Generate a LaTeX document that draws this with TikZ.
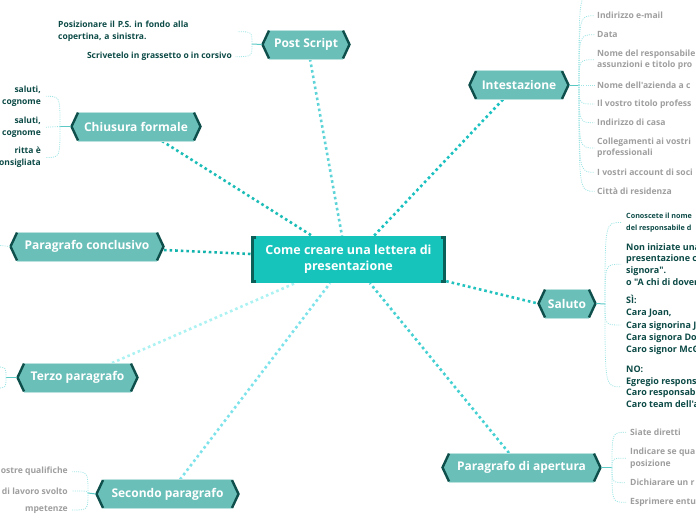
\documentclass[tikz,border=0pt]{standalone}
\usepackage{fontspec}
\setmainfont{Open Sans}[Ligatures=TeXOff]
\usetikzlibrary{backgrounds,calc}
\definecolor{cfill}{HTML}{16C4BC}
\definecolor{cdark}{HTML}{0B5F59}
\definecolor{bfill}{HTML}{6ABFB9}
\definecolor{bdark}{HTML}{0E4F4B}
\definecolor{txtdark}{HTML}{0C4A46}
\definecolor{txtgray}{HTML}{9E9E9E}
\definecolor{subline}{HTML}{9CE3E3}
\definecolor{stemcol}{HTML}{5CC9C4}
\definecolor{cPS}{HTML}{5FD4D8}
\definecolor{cCF}{HTML}{1DBDB7}
\definecolor{cIT}{HTML}{1BC0C0}
\definecolor{cPC}{HTML}{12B3AC}
\definecolor{cSA}{HTML}{22C2BE}
\definecolor{cTP}{HTML}{ACF2F2}
\definecolor{cSP}{HTML}{7EE2EA}
\definecolor{cPA}{HTML}{45D0D2}
\tikzset{
  branchshape/.style={minimum height=29pt, inner sep=0pt, outer sep=0pt},
  branchlabel/.style={text=white, inner sep=0pt, font=\bfseries\fontsize{12}{14}\selectfont},
  bedge/.style={draw=bdark, line width=2.4pt, line join=miter},
  conn/.style={line width=2.6pt, dash pattern=on 2.6pt off 3pt},
  sub/.style={draw=subline, line width=0.8pt, dash pattern=on 1pt off 1.2pt},
  stem/.style={draw=stemcol, line width=1pt},
  grayitem/.style={text=txtgray, inner sep=0pt, align=left, font=\bfseries\fontsize{8.6}{11.5}\selectfont},
  darkitem/.style={text=txtdark, inner sep=0pt, align=left, font=\bfseries\fontsize{8.5}{12}\selectfont},
  centerbox/.style={fill=cfill, minimum width=195pt, minimum height=47pt, inner sep=0pt, align=center, text=white, font=\bfseries\fontsize{12.5}{16}\selectfont}
}
\newcommand{\branchnode}[5]{%
  \path (#2,#3) node[branchshape, minimum width=#4pt] (#1) {};
  \fill[bfill] (#1.north west) -- (#1.north east) -- ([xshift=7pt]#1.east) -- (#1.south east) -- (#1.south west) -- ([xshift=-7pt]#1.west) -- cycle;
  \draw[white!55!bfill, line width=0.8pt] (#1.north west) -- (#1.north east);
  \draw[white!55!bfill, line width=0.8pt] (#1.south west) -- (#1.south east);
  \draw[bedge] ([yshift=-0.6pt]#1.north east) -- ([xshift=6.5pt]#1.east) -- ([yshift=0.6pt]#1.south east);
  \draw[bedge] ([yshift=-0.6pt]#1.north west) -- ([xshift=-6.5pt]#1.west) -- ([yshift=0.6pt]#1.south west);
  \node[branchlabel] at (#1) {#5};
}
\begin{document}
\begin{tikzpicture}[x=1pt,y=-1pt]
\useasboundingbox (0,0) rectangle (696,520);
\clip (0,0) rectangle (696,520);

% central node
\node[centerbox] (c) at (348.5,259.5) {Come creare una lettera di\\presentazione};
\draw[cdark, line width=3pt] ([xshift=5.5pt,yshift=-1.5pt]c.north west) -- ([xshift=1.5pt,yshift=-1.5pt]c.north west) -- ([xshift=1.5pt,yshift=1.5pt]c.south west) -- ([xshift=5.5pt,yshift=1.5pt]c.south west);
\draw[cdark, line width=3pt] ([xshift=-5.5pt,yshift=-1.5pt]c.north east) -- ([xshift=-1.5pt,yshift=-1.5pt]c.north east) -- ([xshift=-1.5pt,yshift=1.5pt]c.south east) -- ([xshift=-5.5pt,yshift=1.5pt]c.south east);

% branches
\branchnode{ps}{306}{44.5}{74}{Post Script}
\branchnode{cf}{136}{126.5}{116}{Chiusura formale}
\branchnode{it}{519}{85}{86}{Intestazione}
\branchnode{pc}{87}{246.5}{140}{Paragrafo conclusivo}
\branchnode{tp}{77.5}{377.5}{107}{Terzo paragrafo}
\branchnode{sp}{167.5}{494}{129}{Secondo paragrafo}
\branchnode{sa}{567}{303.5}{44}{Saluto}
\branchnode{pa}{521.5}{467.5}{145}{Paragrafo di apertura}

% main connectors
\begin{scope}[on background layer]
\draw[conn, cPS] ([xshift=4pt]ps.south) -- ([xshift=-6.5pt]c.north);
\draw[conn, cCF] ([xshift=26pt]cf.south) -- ([xshift=-36.5pt]c.north);
\draw[conn, cIT] ([xshift=-16pt]it.south) -- ([xshift=25.5pt]c.north);
\draw[conn, cPC] ([xshift=7pt,yshift=-3.5pt]pc.east) -- ([yshift=5.5pt]c.west);
\draw[conn, cSA] ([yshift=2pt]c.south east) -- ([xshift=-7pt]sa.west);
\draw[conn, cTP] ([xshift=34.5pt]tp.north) -- ([xshift=-53.5pt]c.south);
\draw[conn, cSP] ([xshift=12.5pt]sp.north) -- ([xshift=-18.5pt]c.south);
\draw[conn, cPA] ([xshift=-12.5pt]pa.north) -- ([xshift=21.5pt]c.south);
\end{scope}

% ---- Post Script items
\coordinate (psj) at (252,44);
\draw[stem] ([xshift=-7pt]ps.west) -- (psj);
\node[darkitem, anchor=west, text width=176pt] (ps1) at (58,31.7) {Posizionare il P.S. in fondo alla\\copertina, a sinistra.};
\node[darkitem, anchor=east] (ps2) at (232,56.7) {Scrivetelo in grassetto o in corsivo};
\draw[sub] (psj) .. controls (psj |- ps1.east) .. ([xshift=3pt]ps1.east);
\draw[sub] (psj) .. controls (psj |- ps2.east) .. ([xshift=3pt]ps2.east);

% ---- Chiusura formale items
\coordinate (cfj) at (60,126.5);
\draw[stem] ([xshift=-7pt]cf.west) -- (cfj);
\node[darkitem, anchor=east, align=right] (cf1) at (41,96.3) {saluti,\\cognome};
\node[darkitem, anchor=east, align=right] (cf2) at (41,127.2) {saluti,\\cognome};
\node[darkitem, anchor=east, align=right] (cf3) at (41,157.5) {ritta è\\onsigliata};
\draw[sub] (cfj) .. controls (cfj |- cf1.east) .. ([xshift=5pt]cf1.east);
\draw[sub] (cfj) -- ([xshift=5pt]cf2.east);
\draw[sub] (cfj) .. controls (cfj |- cf3.east) .. ([xshift=5pt]cf3.east);

% ---- Intestazione items
\coordinate (itj) at (579,85);
\coordinate (it0) at (594,-6);
\draw[stem] ([xshift=7pt]it.east) -- (itj);
\node[grayitem, anchor=west] (it1) at (597,15.7) {Indirizzo e-mail};
\node[grayitem, anchor=west] (it2) at (597,34.7) {Data};
\node[grayitem, anchor=west] (it3) at (597,59.7) {Nome del responsabile\\assunzioni e titolo pro};
\node[grayitem, anchor=west] (it4) at (597,85) {Nome dell'azienda a c};
\node[grayitem, anchor=west] (it5) at (597,104) {Il vostro titolo profess};
\node[grayitem, anchor=west] (it6) at (597,122.7) {Indirizzo di casa};
\node[grayitem, anchor=west] (it7) at (597,148) {Collegamenti ai vostri\\professionali};
\node[grayitem, anchor=west] (it8) at (597,172.3) {I vostri account di soci};
\node[grayitem, anchor=west] (it9) at (597,191.3) {Città di residenza};
\draw[sub] (itj) .. controls (itj |- it0) .. (it0);
\foreach \i in {1,2,3,5,6,7,8,9}{
  \draw[sub] (itj) .. controls (itj |- it\i.west) .. ([xshift=-2.5pt]it\i.west);
}
\draw[sub] (itj) -- ([xshift=-2.5pt]it4.west);

% ---- Saluto items
\coordinate (saj) at (605,304);
\draw[stem] ([xshift=7pt]sa.east) -- (saj);
\node[darkitem, anchor=west, font=\bfseries\fontsize{7.2}{11.6}\selectfont] (sa1) at (626,222.5) {Conoscete il nome\\del responsabile d};
\node[darkitem, anchor=west, font=\bfseries\fontsize{9}{11.7}\selectfont] (sa2) at (626,264.2) {Non iniziate una\\presentazione c\\signora".\\o "A chi di dover};
\node[darkitem, anchor=west, font=\bfseries\fontsize{9}{12.3}\selectfont] (sa3) at (626,325) {SÌ:\\Cara Joan,\\Cara signorina J\\Cara signora Do\\Caro signor McG};
\node[darkitem, anchor=west, font=\bfseries\fontsize{9}{11.7}\selectfont] (sa4) at (626,386.8) {NO:\\Egregio respons\\Caro responsabi\\Caro team dell'a};
\foreach \i in {1,2,3,4}{
  \draw[sub] (saj) .. controls (saj |- sa\i.west) .. ([xshift=-5pt]sa\i.west);
}

% ---- Paragrafo di apertura items
\coordinate (paj) at (612,467.5);
\draw[stem] ([xshift=7pt]pa.east) -- (paj);
\node[grayitem, anchor=west] (pa1) at (630,432.3) {Siate diretti};
\node[grayitem, anchor=west] (pa2) at (630,458.2) {Indicare se qua\\posizione};
\node[grayitem, anchor=west] (pa3) at (630,482.7) {Dichiarare un r};
\node[grayitem, anchor=west] (pa4) at (630,502.3) {Esprimere entu};
\foreach \i in {1,2,3,4}{
  \draw[sub] (paj) .. controls (paj |- pa\i.west) .. ([xshift=-4pt]pa\i.west);
}

% ---- Secondo paragrafo items
\coordinate (spj) at (88,493);
\draw[stem] ([xshift=-7pt]sp.west) -- (spj);
\node[grayitem, anchor=east] (sp1) at (68,471.7) {ostre qualifiche};
\node[grayitem, anchor=east] (sp2) at (68,491) {di lavoro svolto};
\node[grayitem, anchor=east] (sp3) at (68,510) {mpetenze};
\foreach \i in {1,2,3}{
  \draw[sub] (spj) .. controls (spj |- sp\i.east) .. ([xshift=4pt]sp\i.east);
}

% ---- Terzo paragrafo stubs
\coordinate (tpj) at (6,377.5);
\coordinate (tp1) at (-4,367);
\coordinate (tp2) at (-4,388);
\draw[stem] ([xshift=-7pt]tp.west) -- (tpj);
\draw[sub] (tpj) .. controls (tpj |- tp1) .. (tp1);
\draw[sub] (tpj) .. controls (tpj |- tp2) .. (tp2);

% ---- Paragrafo conclusivo stub
\coordinate (pcj) at (-4,245);
\draw[sub] ([xshift=-7pt]pc.west) -- (pcj);
\end{tikzpicture}
\end{document}
